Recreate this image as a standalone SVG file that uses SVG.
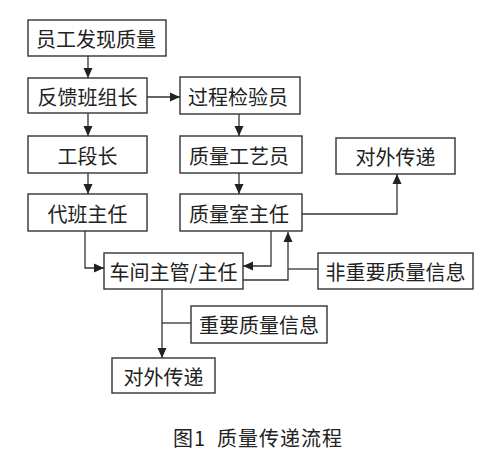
<svg xmlns="http://www.w3.org/2000/svg" width="490" height="461" viewBox="0 0 490 461">
<defs>
<marker id="ah" markerWidth="11" markerHeight="11" refX="10" refY="5" orient="auto" markerUnits="userSpaceOnUse">
<path d="M0,0.5 L10,5 L0,9.5 Z" fill="#222"/>
</marker>
<style>
rect{fill:#fff;stroke:#333;stroke-width:1.4}
text{font-family:"Noto Sans CJK SC","Noto Sans",sans-serif;font-size:20px;fill:#222;text-anchor:middle;dominant-baseline:central}
.c{fill:none;stroke:#333;stroke-width:1.3}
.a{marker-end:url(#ah)}
</style>
</defs>
<rect x="0" y="0" width="490" height="461" style="fill:#fff;stroke:none"/>
<g id="n1"><rect x="28" y="20" width="138" height="36"/><text x="96" y="38">员工发现质量</text></g>
<g id="n2"><rect x="28" y="78" width="119" height="35"/><text x="87.5" y="96">反馈班组长</text></g>
<g id="n3"><rect x="28" y="136" width="119" height="37"/><text x="87.5" y="155">工段长</text></g>
<g id="n4"><rect x="28" y="194" width="119" height="37"/><text x="87.5" y="213">代班主任</text></g>
<g id="n5"><rect x="180" y="77" width="120" height="37"/><text x="238" y="96">过程检验员</text></g>
<g id="n6"><rect x="180" y="136" width="122" height="37"/><text x="239" y="155">质量工艺员</text></g>
<g id="n7"><rect x="180" y="194" width="122" height="37"/><text x="239" y="213">质量室主任</text></g>
<g id="n8"><rect x="336" y="138" width="119" height="36"/><text x="395.5" y="156">对外传递</text></g>
<g id="n9"><rect x="104" y="253" width="139" height="36"/><text x="173.5" y="271">车间主管/主任</text></g>
<g id="n10"><rect x="318" y="253" width="155" height="36"/><text x="395.5" y="271">非重要质量信息</text></g>
<g id="n11"><rect x="191" y="306" width="136" height="37"/><text x="259" y="324.5">重要质量信息</text></g>
<g id="n12"><rect x="112" y="358" width="103" height="35"/><text x="163.5" y="376">对外传递</text></g>
<g id="connectors">
<path class="c a" d="M88,56 V78"/>
<path class="c a" d="M88,113 V136"/>
<path class="c a" d="M88,173 V194"/>
<path class="c a" d="M147,97 H180"/>
<path class="c a" d="M239,114 V136"/>
<path class="c a" d="M239,173 V194"/>
<path class="c a" d="M302,214 H397 V174"/>
<path class="c a" d="M85,231 V268 H104"/>
<path class="c a" d="M271,231 V266 H243"/>
<path class="c a" d="M243,280 H288 V232"/>
<path class="c" d="M318,269 H288"/>
<path class="c a" d="M162,289 V358"/>
<path class="c" d="M191,323 H162"/>
</g>
<text x="258" y="437" style="font-size:20px;letter-spacing:1px" xml:space="preserve">图1  质量传递流程</text>
</svg>
